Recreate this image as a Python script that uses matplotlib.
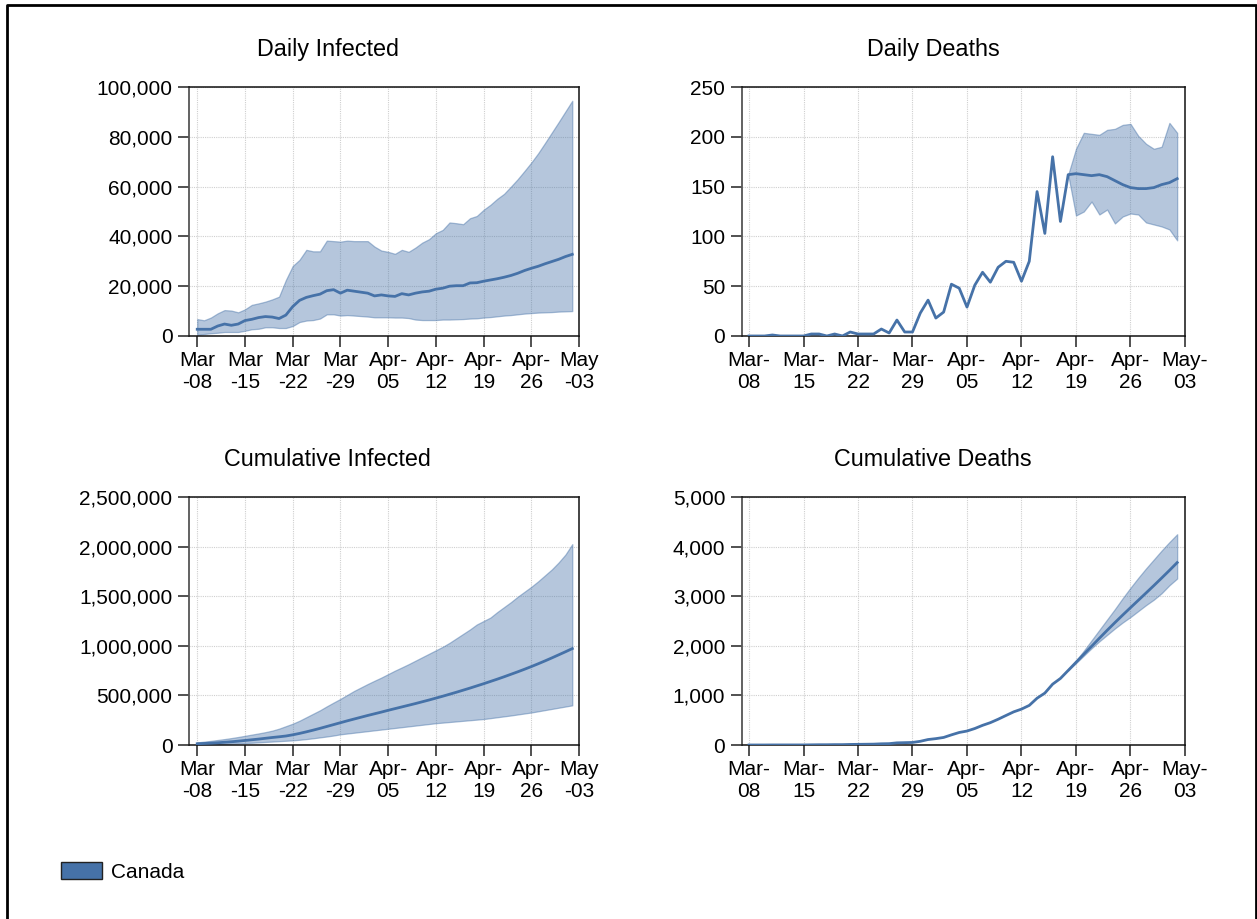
import numpy as np
import pandas as pd
import matplotlib

matplotlib.use("Agg")
import matplotlib.pyplot as plt
from matplotlib.colors import to_rgba
from matplotlib.lines import Line2D
from matplotlib.patches import Patch

plt.rcParams["font.family"] = ["Liberation Sans", "DejaVu Sans"]

nan = np.nan
dates = pd.date_range("2020-03-08", "2020-05-02")

# daily infected: median, upper and lower bound
inf_mid = [2700, 2700, 2700, 4000, 4800, 4300, 4800, 6200, 6700, 7400,
           7800, 7600, 7000, 8400, 11800, 14300, 15500, 16200, 16800, 18200,
           18600, 17200, 18400, 18000, 17600, 17200, 16100, 16500, 16100, 15900,
           17000, 16500, 17200, 17700, 18000, 18800, 19200, 20000, 20200, 20200,
           21300, 21400, 22000, 22500, 23000, 23600, 24300, 25200, 26300, 27200,
           28000, 29000, 29900, 30800, 31900, 32800]
inf_hi = [6800, 6300, 7400, 9100, 10400, 10200, 9500, 10700, 12500, 13100,
          13800, 14700, 15800, 22500, 28100, 30600, 34600, 34000, 34000, 38300,
          38100, 37900, 38300, 38100, 38100, 38100, 35900, 34300, 33800, 33000,
          34600, 33800, 35500, 37500, 38900, 41300, 42600, 45600, 45300, 44900,
          47300, 48200, 50700, 52700, 55100, 57100, 60000, 63000, 66300, 69700,
          73400, 77500, 81700, 85900, 90200, 94500]
inf_lo = [400, 800, 1100, 1300, 1600, 1600, 1600, 2100, 2700, 2900,
          3500, 3500, 3200, 3200, 4000, 5600, 6200, 6400, 7000, 8700,
          8700, 8200, 8400, 8200, 8000, 7800, 7500, 7500, 7500, 7400,
          7400, 7200, 6600, 6400, 6400, 6400, 6600, 6600, 6700, 6800,
          7000, 7100, 7400, 7600, 7900, 8200, 8400, 8700, 9000, 9200,
          9400, 9500, 9600, 9800, 9900, 10000]

# daily deaths: observed then forecast median, band only on forecast
dth_mid = [0, 0, 0, 1, 0, 0, 0, 0, 2, 2,
           0, 2, 0, 4, 2, 2, 2, 7, 3, 16,
           4, 4, 23, 36, 18, 24, 52, 48, 29, 51,
           64, 54, 69, 75, 74, 55, 75, 145, 103, 180,
           115, 162, 163, 162, 161, 162, 160, 156, 152, 149,
           148, 148, 149, 152, 154, 158]
dth_hi = [nan] * 41 + [162, 188, 204, 203, 202, 207, 208, 212, 213, 201,
                       193, 188, 190, 214, 204]
dth_lo = [nan] * 41 + [162, 121, 125, 135, 122, 127, 113, 120, 123, 122,
                       114, 112, 110, 107, 96]

# cumulative infected
cinf_mid = [13000, 16000, 19000, 23000, 28000, 33000, 39000, 46000, 53000, 60000,
            68000, 76000, 83000, 91000, 103000, 117000, 133000, 150000, 168000, 187000,
            206000, 225000, 244000, 262000, 280000, 298000, 315000, 332000, 350000, 367000,
            384000, 401000, 418000, 436000, 454000, 473000, 492000, 512000, 532000, 553000,
            574000, 596000, 618000, 641000, 664000, 688000, 713000, 738000, 764000, 791000,
            819000, 848000, 878000, 909000, 940000, 972000]
cinf_hi = [27000, 34000, 42000, 51000, 60000, 70000, 81000, 93000, 105000, 117000,
           130000, 145000, 165000, 190000, 215000, 245000, 280000, 315000, 350000, 390000,
           428000, 465000, 505000, 545000, 580000, 615000, 648000, 680000, 715000, 750000,
           782000, 815000, 850000, 885000, 920000, 955000, 990000, 1030000, 1075000, 1120000,
           1165000, 1215000, 1250000, 1285000, 1340000, 1390000, 1440000, 1495000, 1545000, 1595000,
           1650000, 1710000, 1770000, 1840000, 1920000, 2025000]
cinf_lo = [3000, 5000, 7000, 9000, 11000, 13000, 16000, 20000, 23000, 27000,
           31000, 35000, 39000, 43000, 47000, 53000, 60000, 68000, 77000, 86000,
           96000, 108000, 116000, 124000, 132000, 140000, 148000, 156000, 164000, 172000,
           180000, 188000, 196000, 204000, 212000, 220000, 226000, 232000, 238000, 244000,
           250000, 256000, 262000, 271000, 280000, 289000, 298000, 308000, 318000, 328000,
           340000, 352000, 364000, 376000, 388000, 400000]

# cumulative deaths
cdth_mid = [1, 1, 1, 2, 2, 2, 2, 2, 4, 6,
            6, 8, 8, 12, 14, 16, 18, 25, 28, 44,
            48, 52, 75, 111, 129, 153, 205, 253, 282, 333,
            397, 451, 520, 595, 669, 724, 799, 944, 1047, 1227,
            1342, 1504, 1667, 1829, 1990, 2152, 2312, 2468, 2620, 2769,
            2917, 3065, 3214, 3366, 3520, 3678]
cdth_hi = [nan] * 41 + [1504, 1700, 1900, 2110, 2320, 2530, 2740, 2960, 3170, 3370,
                        3560, 3740, 3920, 4090, 4250]
cdth_lo = [nan] * 41 + [1504, 1650, 1800, 1950, 2090, 2220, 2350, 2470, 2580, 2700,
                        2820, 2930, 3060, 3220, 3357]

tick_dates = pd.date_range("2020-03-08", "2020-05-03", freq="7D")
labels_left = ["Mar\n-08", "Mar\n-15", "Mar\n-22", "Mar\n-29", "Apr-\n05",
               "Apr-\n12", "Apr-\n19", "Apr-\n26", "May\n-03"]
labels_right = ["Mar-\n08", "Mar-\n15", "Mar-\n22", "Mar-\n29", "Apr-\n05",
                "Apr-\n12", "Apr-\n19", "Apr-\n26", "May-\n03"]

COLOR = "#4672a8"
FILL = to_rgba(COLOR, 0.4)
EDGE = to_rgba(COLOR, 0.45)

fig = plt.figure(figsize=(12.57, 9.19), dpi=100)

panels = [
    # title, rect, mid, hi, lo, ymax, step, labels, left pad days, title x
    ("Daily Infected", [0.1504, 0.6344, 0.3103, 0.2709], inf_mid, inf_hi, inf_lo, 100000, 20000, labels_left, 1.2, 0.356),
    ("Daily Deaths", [0.5903, 0.6344, 0.3524, 0.2709], dth_mid, dth_hi, dth_lo, 250, 50, labels_right, 0.9, 0.431),
    ("Cumulative Infected", [0.1504, 0.1893, 0.3103, 0.2699], cinf_mid, cinf_hi, cinf_lo, 2500000, 500000, labels_left, 1.2, 0.356),
    ("Cumulative Deaths", [0.5903, 0.1893, 0.3524, 0.2699], cdth_mid, cdth_hi, cdth_lo, 5000, 1000, labels_right, 0.9, 0.431),
]

for title, rect, mid, hi, lo, ymax, step, xlabels, lpad, tx in panels:
    ax = fig.add_axes(rect)
    ax.fill_between(dates, np.array(lo, float), np.array(hi, float),
                    facecolor=FILL, edgecolor=EDGE, linewidth=0.9, zorder=2)
    ax.plot(dates, mid, color=COLOR, linewidth=2.0, zorder=3)
    ax.set_xlim(dates[0] - pd.Timedelta(days=lpad), tick_dates[-1])
    ax.set_ylim(0, ymax)
    ax.set_xticks(tick_dates)
    ax.set_xticklabels(xlabels, linespacing=1.15)
    ax.set_yticks(np.arange(0, ymax + 1, step))
    ax.set_yticklabels([f"{v:,}" for v in np.arange(0, ymax + 1, step)])
    ax.tick_params(axis="both", labelsize=15, length=8, width=1.1, direction="out", color="#222222")
    ax.tick_params(axis="x", pad=3)
    ax.tick_params(axis="y", pad=4)
    ax.grid(True, color="#cfcfcf", linestyle=(0, (1, 1)), linewidth=0.8, zorder=0)
    ax.set_axisbelow(True)
    for side in ["top", "right", "bottom"]:
        ax.spines[side].set_color("#111111")
        ax.spines[side].set_linewidth(1.1)
    ax.spines["left"].set_color("#555555")
    ax.spines["left"].set_linewidth(1.3)
    ax.set_title(title, fontsize=16.8, pad=22.5, x=tx)

# legend
handle = Patch(facecolor=COLOR, edgecolor="#222222", linewidth=1.0)
fig.legend([handle], ["Canada"], loc="center left", bbox_to_anchor=(61 / 1257, 1 - 872 / 919),
           frameon=False, fontsize=15, handlelength=1.95, handleheight=0.9,
           handletextpad=0.45, borderpad=0, borderaxespad=0)

# outer frame (no bottom edge visible)
fx0, fx1, fy1 = 7 / 1257, 1255.5 / 1257, 1 - 5 / 919
fig.add_artist(Line2D([fx0, fx0, fx1, fx1], [0, fy1, fy1, 0], color="black",
                      linewidth=2.0, transform=fig.transFigure))

fig.savefig("out.png", dpi=100, facecolor="white")
